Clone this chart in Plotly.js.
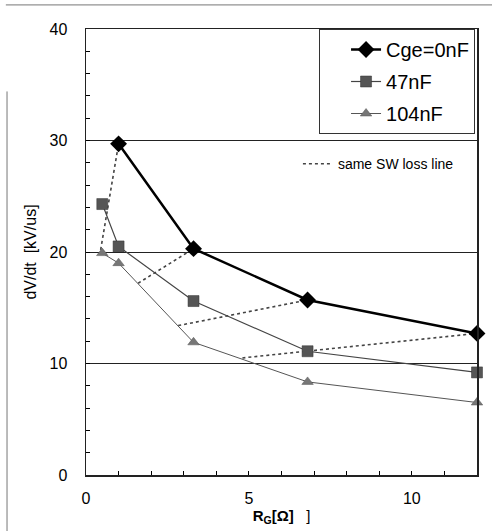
<!DOCTYPE html>
<html>
<head>
<meta charset="utf-8">
<script src="https://cdn.plot.ly/plotly-3.0.1.min.js"></script>
<style>html,body{margin:0;padding:0;background:#fff;}#chart{width:492px;height:531px;}</style>
</head>
<body>
<div id="chart"></div>
<script>
// Data
var rgCge0 = [1, 3.3, 6.8, 12];
var dvdtCge0 = [29.7, 20.3, 15.7, 12.7];
var rgAll = [0.5, 1, 3.3, 6.8, 12];
var dvdt47 = [24.3, 20.5, 15.6, 11.1, 9.2];
var dvdt104 = [19.9, 19.0, 11.9, 8.35, 6.5];
// same SW loss line segments (null separates segments)
var lossX = [0.45, 1, null, 1.6, 3.3, null, 2.83, 6.8, null, 4.8, 12];
var lossY = [20.2, 29.7, null, 17.2, 20.3, null, 13.4, 15.7, null, 10.5, 12.7];
var seriesNames = ['Cge=0nF', '47nF', '104nF', 'same SW loss line'];
var xTickVals = [0, 5, 10];
var yTickVals = [0, 10, 20, 30, 40];

var FONT = 'Liberation Sans, Arial, sans-serif';

var traces = [
  {x: lossX, y: lossY, mode: 'lines', name: seriesNames[3], legend: 'legend2',
   line: {color: '#444', width: 1.6, dash: 'dot'}, connectgaps: false, cliponaxis: false},
  {x: rgCge0, y: dvdtCge0, mode: 'lines+markers', name: seriesNames[0], legendgroup: 'a',
   line: {color: '#000', width: 2.5}, marker: {symbol: 'diamond', size: 13, color: '#000'}, cliponaxis: false},
  {x: rgAll, y: dvdt47, mode: 'lines+markers', name: seriesNames[1], legendgroup: 'b',
   line: {color: '#444', width: 1.2}, marker: {symbol: 'square', size: 11, color: '#555', line: {color: '#333', width: 0.5}}, cliponaxis: false},
  {x: rgAll, y: dvdt104, mode: 'lines+markers', name: seriesNames[2], legendgroup: 'c',
   line: {color: '#555', width: 1}, marker: {symbol: 'triangle-up', size: 10, color: '#777', line: {color: '#555', width: 0.5}}, cliponaxis: false}
];

var layout = {
  width: 492, height: 531,
  margin: {l: 86, r: 15, t: 29, b: 56},
  paper_bgcolor: '#fff', plot_bgcolor: '#fff',
  font: {family: FONT, color: '#000', size: 14},
  showlegend: true,
  xaxis: {
    range: [0, 12], tickvals: xTickVals, ticktext: xTickVals.map(String),
    ticks: 'inside', ticklen: 4, tickcolor: '#000',
    minor: {dtick: 1, tick0: 0, ticks: 'inside', ticklen: 4, tickcolor: '#000', showgrid: false},
    showgrid: false, zeroline: false,
    showline: true, linecolor: '#222', linewidth: 1.5, mirror: true,
    tickfont: {size: 16, family: FONT}, ticklabelstandoff: 8,
    title: {text: '<b>R<sub>G</sub>[Ω]</b>   ]', font: {size: 15, family: FONT}, standoff: 0}
  },
  yaxis: {
    range: [0, 40], tickvals: yTickVals, ticktext: yTickVals.map(String),
    ticks: 'inside', ticklen: 4, tickcolor: '#000',
    minor: {dtick: 2, tick0: 0, ticks: 'inside', ticklen: 4, tickcolor: '#000', showgrid: false},
    showgrid: true, gridcolor: '#222', gridwidth: 1, zeroline: false,
    showline: true, linecolor: '#222', linewidth: 1.5, mirror: true,
    tickfont: {size: 16, family: FONT}, ticklabelstandoff: 14,
    title: {text: 'dV/dt  [kV/us]', font: {size: 16, family: FONT}, standoff: 9}
  },
  legend: {
    x: 0.995, y: 1, xanchor: 'right', yanchor: 'top',
    bordercolor: '#333', borderwidth: 1, bgcolor: '#fff',
    font: {size: 20, family: FONT}, traceorder: 'grouped', tracegroupgap: 3,
    indentation: 26
  },
  legend2: {
    x: 0.542, y: 0.697, xanchor: 'left', yanchor: 'middle',
    borderwidth: 0, bgcolor: 'rgba(0,0,0,0)',
    font: {size: 14, family: FONT}, itemwidth: 30
  },
  shapes: [
    {type: 'line', xref: 'paper', yref: 'paper', x0: -0.205, x1: 1.04, y0: 1.054, y1: 1.054, line: {color: '#777', width: 1}},
    {type: 'line', xref: 'paper', yref: 'paper', x0: -0.202, x1: -0.202, y0: -0.13, y1: 0.86, line: {color: '#777', width: 1}}
  ]
};

Plotly.newPlot('chart', traces, layout, {displayModeBar: false, staticPlot: true});
</script>
</body>
</html>
